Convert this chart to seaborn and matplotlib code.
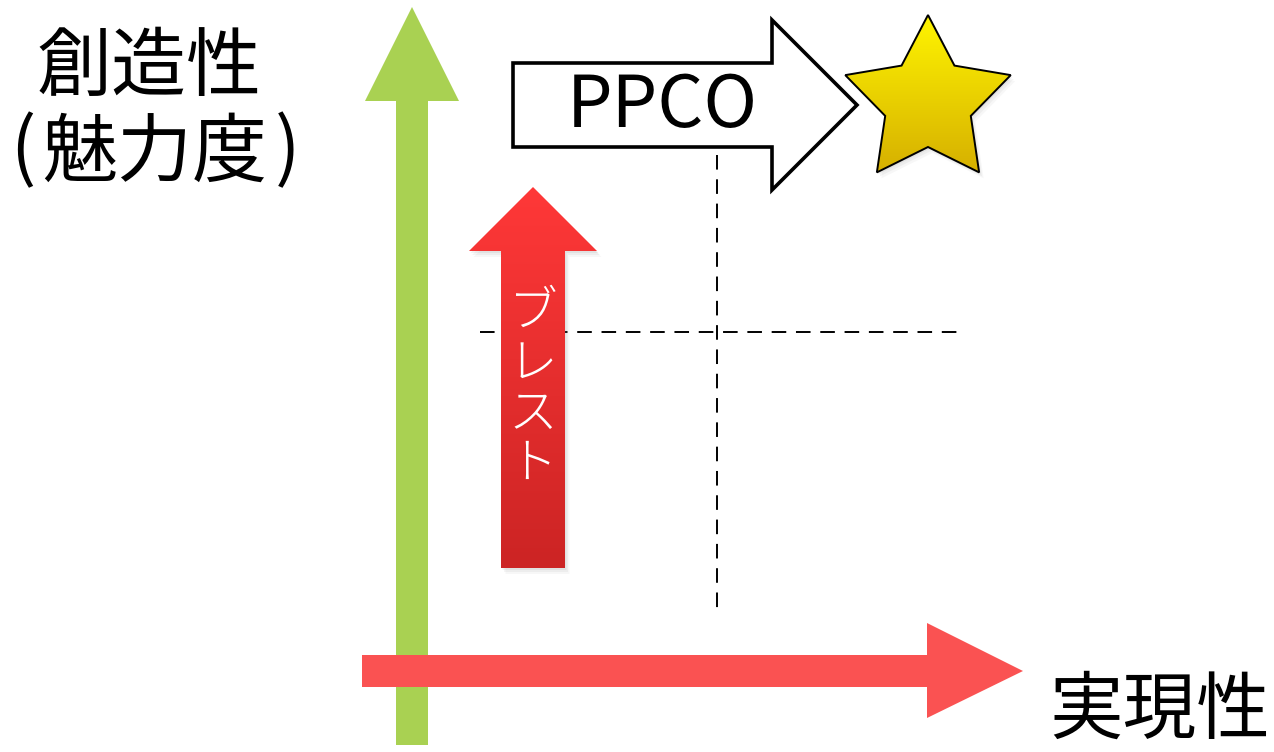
import numpy as np
import matplotlib
matplotlib.use("Agg")
import matplotlib.pyplot as plt
import seaborn as sns
import pandas as pd
from matplotlib.patches import Polygon
from matplotlib.colors import to_rgb

sns.set_theme(style="white")
plt.rcParams['font.family'] = ['Noto Sans CJK JP', 'DejaVu Sans']

# ---- content ----
y_label_top = "創造性"
y_label_paren = ["(", "魅力度", ")"]
x_label = "実現性"
method_main = "PPCO"
method_sub = list("ブレスト")

# dashed guide lines (pixel space of the diagram)
guide_v_x = [717, 717]
guide_v_y = [155, 608]
guide_h_x = [480, 957]
guide_h_y = [332, 332]

W, H = 1274, 752
fig = plt.figure(figsize=(W / 100, H / 100), dpi=100)
ax = fig.add_axes([0, 0, 1, 1])


def grad_fill(verts, top, bottom, z):
    poly = Polygon(verts, closed=True, facecolor='none', edgecolor='none', zorder=z)
    ax.add_patch(poly)
    xs = [v[0] for v in verts]
    ys = [v[1] for v in verts]
    c0, c1 = np.array(to_rgb(top)), np.array(to_rgb(bottom))
    t = np.linspace(0, 1, 256)[:, None]
    img = (c0[None, :] * (1 - t) + c1[None, :] * t)[:, None, :]
    img = np.repeat(img, 2, axis=1)
    im = ax.imshow(img, extent=(min(xs), max(xs), max(ys), min(ys)),
                   origin='upper', aspect='auto', zorder=z, interpolation='bilinear')
    im.set_clip_path(poly)
    return poly


def shadow(verts, dx=3, dy=4, z=1):
    for k, a in [(3, 0.06), (2, 0.08), (1, 0.1)]:
        sv = [(x + dx * k / 2, y + dy * k / 2) for x, y in verts]
        ax.add_patch(Polygon(sv, closed=True, facecolor='gray', edgecolor='none',
                             alpha=a, zorder=z))


# dashed guide lines via seaborn
df_v = pd.DataFrame({"x": guide_v_x, "y": guide_v_y})
df_h = pd.DataFrame({"x": guide_h_x, "y": guide_h_y})
for d in (df_v, df_h):
    sns.lineplot(data=d, x="x", y="y", ax=ax, estimator=None, sort=False,
                 color='black', lw=1.4, legend=False, zorder=2,
                 linestyle=(0, (7.5, 5)))
ax.set_xlim(0, W)
ax.set_ylim(H, 0)
ax.axis('off')

# green vertical axis arrow
green = [(396, 745), (428, 745), (428, 101), (459, 101), (412, 7), (365, 101), (396, 101)]
ax.add_patch(Polygon(green, closed=True, facecolor='#A9D152', edgecolor='none', zorder=3))

# red horizontal axis arrow
red_h = [(362, 655), (927, 655), (927, 623), (1023, 671), (927, 718), (927, 687), (362, 687)]
ax.add_patch(Polygon(red_h, closed=True, facecolor='#FA5252', edgecolor='none', zorder=4))

# red gradient up arrow (ブレスト)
red_up = [(501, 568), (565, 568), (565, 251), (597, 251), (533, 187), (469, 251), (501, 251)]
shadow(red_up, z=4)
grad_fill(red_up, '#FF3838', '#CC2424', 5)
for ch, yy in zip(method_sub, [312, 364, 414, 464]):
    ax.text(533, yy, ch, color='white', fontsize=35, ha='center', va='center',
            zorder=6, fontweight='light')

# PPCO block arrow
ppco = [(513, 63), (772, 63), (772, 20), (857, 105), (772, 190), (772, 147), (513, 147)]
ax.add_patch(Polygon(ppco, closed=True, facecolor='white', edgecolor='black',
                     lw=2.6, joinstyle='miter', zorder=6))
ax.text(662, 106, method_main, fontsize=52, ha='center', va='center', color='black', zorder=7)

# star
cx, cy, R, r = 928, 102, 87, 45
star = []
for i in range(10):
    ang = np.deg2rad(90 + 36 * i)
    rad = R if i % 2 == 0 else r
    star.append((cx + rad * np.cos(ang), cy - rad * np.sin(ang)))
shadow(star, z=6)
grad_fill(star, '#FFF500', '#D6B000', 7)
ax.add_patch(Polygon(star, closed=True, facecolor='none', edgecolor='black', lw=1.4, zorder=8))

# axis labels
ax.text(149, 68, y_label_top, fontsize=54, ha='center', va='center', color='black')
ax.text(10, 152, y_label_paren[0], fontsize=54, ha='left', va='center', color='black')
ax.text(155, 154, y_label_paren[1], fontsize=54, ha='center', va='center', color='black')
ax.text(300, 152, y_label_paren[2], fontsize=54, ha='right', va='center', color='black')
ax.text(1160, 712, x_label, fontsize=53, ha='center', va='center', color='black')

fig.savefig("out.png", dpi=100, facecolor='white')
